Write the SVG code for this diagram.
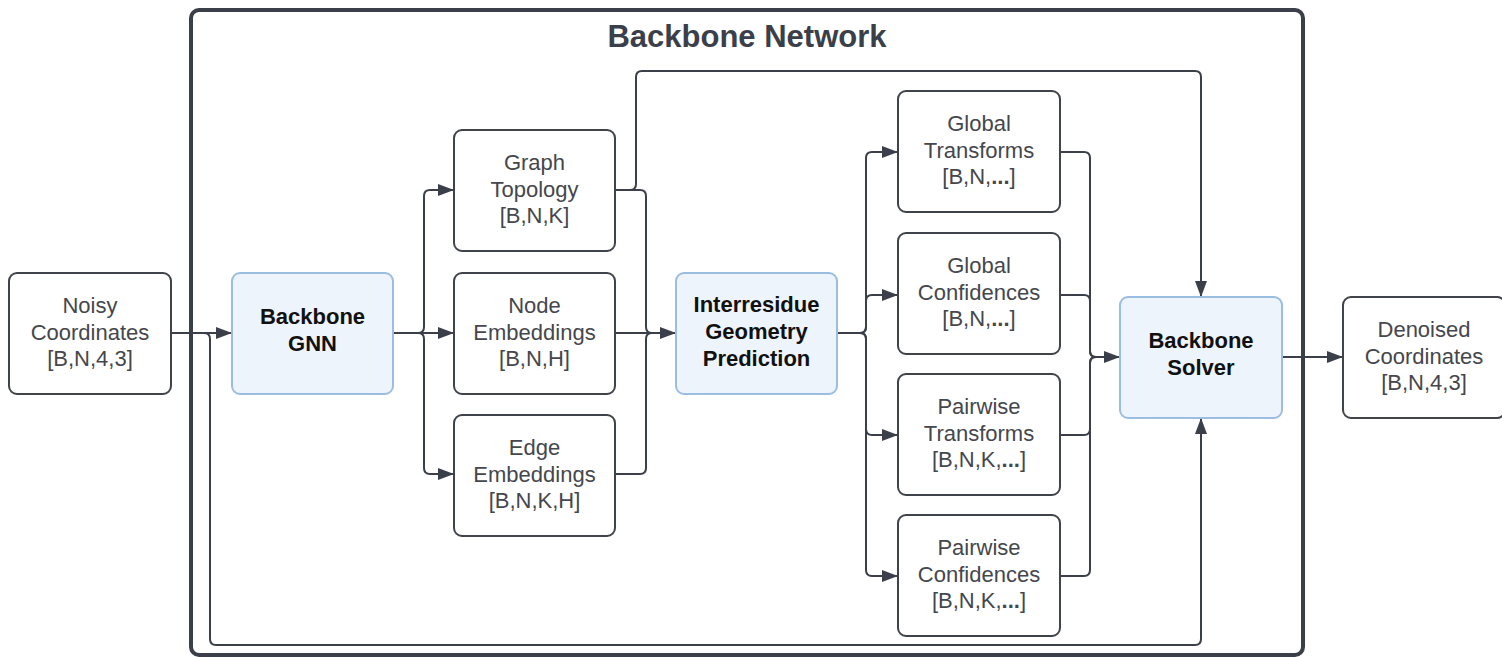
<svg xmlns="http://www.w3.org/2000/svg" width="1502" height="657" viewBox="0 0 1502 657">
<defs>
<marker id="arr" markerUnits="userSpaceOnUse" markerWidth="17" markerHeight="13" refX="16" refY="6.5" orient="auto">
<path d="M0,0.5 L16,6.5 L0,12.5 z" fill="#3a3f4a"/>
</marker>
<style>
.box{fill:#ffffff;stroke:#3f434a;stroke-width:2}
.blue{fill:#eef4fb;stroke:#9cbde2;stroke-width:2}
.t{font-family:"Liberation Sans",Arial,sans-serif;font-size:22px;fill:#45474c;text-anchor:middle}
.b{font-family:"Liberation Sans",Arial,sans-serif;font-size:22px;font-weight:bold;fill:#111111;text-anchor:middle}
.c{fill:none;stroke:#3a3f4a;stroke-width:2}
.ca{fill:none;stroke:#3a3f4a;stroke-width:2;marker-end:url(#arr)}
</style>
</defs>
<rect width="1502" height="657" fill="#ffffff"/>
<g id="container">
<rect x="191" y="10" width="1112" height="645" rx="8" fill="none" stroke="#3a3f4a" stroke-width="4"/>
<text x="747" y="47" font-family="'Liberation Sans',Arial,sans-serif" font-size="31" font-weight="bold" fill="#3a3f4a" text-anchor="middle">Backbone Network</text>
</g>
<g id="connectors">
<path class="ca" d="M171,333 H232"/>
<path class="ca" d="M204,333 Q210,333 210,339 V639 Q210,645 216,645 H1195 Q1201,645 1201,639 V418"/>
<path class="ca" d="M393,333 H454"/>
<path class="ca" d="M418,333 Q424,333 424,327 V196 Q424,190 430,190 H454"/>
<path class="ca" d="M418,333 Q424,333 424,339 V468 Q424,474 430,474 H454"/>
<path class="ca" d="M615,190 H630 Q636,190 636,184 V77 Q636,71 642,71 H1195 Q1201,71 1201,77 V297"/>
<path class="c" d="M615,190 H640 Q646,190 646,196 V327 Q646,333 652,333"/>
<path class="c" d="M615,474 H640 Q646,474 646,468 V339 Q646,333 652,333"/>
<path class="ca" d="M615,333 H676"/>
<path class="c" d="M837,333 H860"/>
<path class="ca" d="M860,333 Q866,333 866,327 V158 Q866,152 872,152 H898"/>
<path class="ca" d="M860,333 Q866,333 866,327 V301 Q866,295 872,295 H898"/>
<path class="ca" d="M860,333 Q866,333 866,339 V429 Q866,435 872,435 H898"/>
<path class="ca" d="M860,333 Q866,333 866,339 V570 Q866,576 872,576 H898"/>
<path class="c" d="M1060,152 H1084 Q1090,152 1090,158 V351 Q1090,357 1096,357"/>
<path class="c" d="M1060,295 H1084 Q1090,295 1090,301 V351 Q1090,357 1096,357"/>
<path class="c" d="M1060,435 H1084 Q1090,435 1090,429 V363 Q1090,357 1096,357"/>
<path class="c" d="M1060,576 H1084 Q1090,576 1090,570 V363 Q1090,357 1096,357"/>
<path class="ca" d="M1096,357 H1120"/>
<path class="ca" d="M1282,357 H1343"/>
</g>
<g id="noisy">
<rect class="box" x="9" y="273" width="162" height="121" rx="8"/>
<text class="t" x="90" y="313">Noisy</text>
<text class="t" x="90" y="340">Coordinates</text>
<text class="t" x="90" y="366">[B,N,4,3]</text>
</g>
<g id="gnn">
<rect class="blue" x="232" y="273" width="161" height="121" rx="8"/>
<text class="b" x="312.5" y="324">Backbone</text>
<text class="b" x="312.5" y="351">GNN</text>
</g>
<g id="topology">
<rect class="box" x="454" y="130" width="161" height="121" rx="8"/>
<text class="t" x="534.5" y="170">Graph</text>
<text class="t" x="534.5" y="197">Topology</text>
<text class="t" x="534.5" y="223">[B,N,K]</text>
</g>
<g id="nodeemb">
<rect class="box" x="454" y="273" width="161" height="121" rx="8"/>
<text class="t" x="534.5" y="313">Node</text>
<text class="t" x="534.5" y="340">Embeddings</text>
<text class="t" x="534.5" y="366">[B,N,H]</text>
</g>
<g id="edgeemb">
<rect class="box" x="454" y="415" width="161" height="121" rx="8"/>
<text class="t" x="534.5" y="455">Edge</text>
<text class="t" x="534.5" y="482">Embeddings</text>
<text class="t" x="534.5" y="508">[B,N,K,H]</text>
</g>
<g id="interresidue">
<rect class="blue" x="676" y="273" width="161" height="121" rx="8"/>
<text class="b" x="756.5" y="312">Interresidue</text>
<text class="b" x="756.5" y="339">Geometry</text>
<text class="b" x="756.5" y="366">Prediction</text>
</g>
<g id="globaltransforms">
<rect class="box" x="898" y="91" width="162" height="121" rx="8"/>
<text class="t" x="979" y="131">Global</text>
<text class="t" x="979" y="158">Transforms</text>
<text class="t" x="979" y="184">[B,N,<tspan font-weight="bold">...</tspan>]</text>
</g>
<g id="globalconf">
<rect class="box" x="898" y="233" width="162" height="121" rx="8"/>
<text class="t" x="979" y="273">Global</text>
<text class="t" x="979" y="300">Confidences</text>
<text class="t" x="979" y="326">[B,N,<tspan font-weight="bold">...</tspan>]</text>
</g>
<g id="pairtransforms">
<rect class="box" x="898" y="374" width="162" height="121" rx="8"/>
<text class="t" x="979" y="414">Pairwise</text>
<text class="t" x="979" y="441">Transforms</text>
<text class="t" x="979" y="467">[B,N,K,<tspan font-weight="bold">...</tspan>]</text>
</g>
<g id="pairconf">
<rect class="box" x="898" y="515" width="162" height="121" rx="8"/>
<text class="t" x="979" y="555">Pairwise</text>
<text class="t" x="979" y="582">Confidences</text>
<text class="t" x="979" y="608">[B,N,K,<tspan font-weight="bold">...</tspan>]</text>
</g>
<g id="solver">
<rect class="blue" x="1120" y="297" width="162" height="121" rx="8"/>
<text class="b" x="1201" y="348">Backbone</text>
<text class="b" x="1201" y="375">Solver</text>
</g>
<g id="denoised">
<rect class="box" x="1343" y="297" width="162" height="121" rx="8"/>
<text class="t" x="1424" y="337">Denoised</text>
<text class="t" x="1424" y="364">Coordinates</text>
<text class="t" x="1424" y="390">[B,N,4,3]</text>
</g>
</svg>
